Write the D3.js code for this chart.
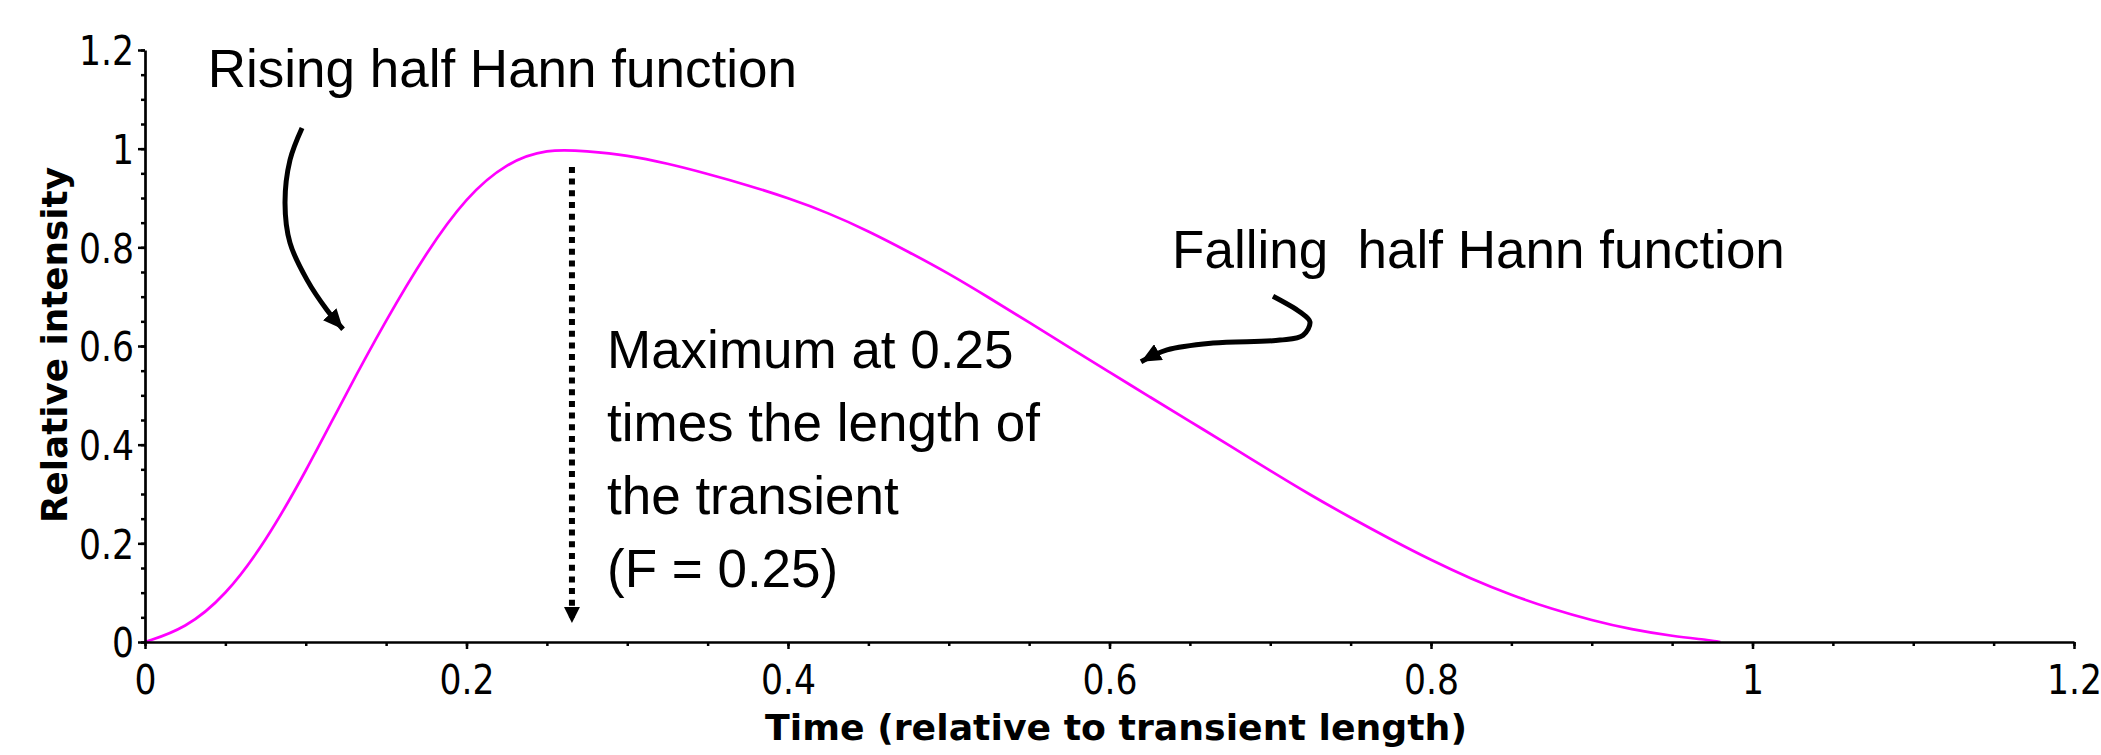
<!DOCTYPE html>
<html>
<head>
<meta charset="utf-8">
<script src="https://cdn.jsdelivr.net/npm/d3@7"></script>
<style>
body { margin: 0; background: #fff; }
svg { display: block; background: #fff; }
.tick text { font-family: "DejaVu Sans Condensed", "DejaVu Sans", sans-serif; font-stretch: condensed; fill: #000; }
.note { font-family: "Liberation Sans", Arial, sans-serif; font-size: 53px; fill: #000; white-space: pre; }
.title { font-family: "DejaVu Sans", Verdana, sans-serif; font-weight: bold; font-size: 36px; fill: #000; }
</style>
</head>
<body>
<svg id="chart" width="2101" height="755"></svg>
<script>
// values (time relative to transient length -> relative intensity)
var time = [0, 0.025, 0.05, 0.075, 0.1, 0.125, 0.15, 0.175, 0.2, 0.225, 0.25,
  0.275, 0.3, 0.325, 0.35, 0.375, 0.4, 0.425, 0.45, 0.475, 0.5,
  0.525, 0.55, 0.575, 0.6, 0.625, 0.65, 0.675, 0.7, 0.725, 0.75,
  0.775, 0.8, 0.825, 0.85, 0.875, 0.9, 0.925, 0.95, 0.975, 0.98]
var intensity = [0, 0.027, 0.093, 0.203, 0.345, 0.503, 0.653, 0.79, 0.903, 0.972, 1.0,
  0.995, 0.987, 0.97, 0.949, 0.926, 0.9, 0.87, 0.833, 0.791, 0.747,
  0.698, 0.648, 0.597, 0.547, 0.497, 0.447, 0.398, 0.347, 0.298, 0.252,
  0.208, 0.166, 0.128, 0.095, 0.067, 0.044, 0.025, 0.012, 0.003, 0]

var xTicks = [0, 0.2, 0.4, 0.6, 0.8, 1, 1.2]
var xTickLabels = ["0", "0.2", "0.4", "0.6", "0.8", "1", "1.2"]
var yTicks = [0, 0.2, 0.4, 0.6, 0.8, 1, 1.2]
var yTickLabels = ["0", "0.2", "0.4", "0.6", "0.8", "1", "1.2"]

var xTitle = "Time (relative to transient length)"
var yTitle = "Relative intensity"
var risingLabel = "Rising half Hann function"
var fallingLabel = "Falling  half Hann function"
var maxLabel = ["Maximum at 0.25", "times the length of", "the transient", "(F = 0.25)"]
var peakMarker = 0.2656

// annotation arrows in data units
var risingArrow = [[0.0977, 1.042], [0.0902, 0.977], [0.0871, 0.89], [0.0902, 0.809], [0.1008, 0.734], [0.1132, 0.673], [0.1232, 0.634]]
var fallingArrow = [[0.7017, 0.701], [0.7185, 0.669], [0.7247, 0.649], [0.7204, 0.622], [0.7061, 0.612], [0.6644, 0.606], [0.6358, 0.592], [0.6196, 0.568]]

var margins = { top: 50, left: 145, right: 27, bottom: 113 }
var width = 2101 - margins.left - margins.right
var height = 755 - margins.top - margins.bottom

var svg = d3.select("#chart")

var defs = svg.append("defs")
defs.append("marker")
  .attr("id", "head")
  .attr("markerUnits", "userSpaceOnUse")
  .attr("viewBox", "0 0 20 18")
  .attr("markerWidth", 20).attr("markerHeight", 18)
  .attr("refX", 20).attr("refY", 9)
  .attr("orient", "auto")
  .append("path").attr("d", "M0,0 L20,9 L0,18 z").attr("fill", "#000")
defs.append("marker")
  .attr("id", "headSmall")
  .attr("markerUnits", "userSpaceOnUse")
  .attr("viewBox", "0 0 16 16")
  .attr("markerWidth", 16).attr("markerHeight", 16)
  .attr("refX", 16).attr("refY", 8)
  .attr("orient", "auto")
  .append("path").attr("d", "M0,0 L16,8 L0,16 z").attr("fill", "#000")

var g = svg.append("g").attr("transform", "translate(" + margins.left + "," + margins.top + ")")

var x = d3.scaleLinear().domain([0, 1.2]).range([0, width])
var y = d3.scaleLinear().domain([0, 1.2]).range([height, 0])

// curve
var points = time.map(function(t, i){ return [t, intensity[i]] })
var line = d3.line()
  .x(function(d){ return x(d[0]) })
  .y(function(d){ return y(d[1]) })
  .curve(d3.curveBasis)

g.append("path")
  .datum(points)
  .attr("d", line)
  .attr("fill", "none")
  .attr("stroke", "#ff00ff")
  .attr("stroke-width", 2.7)

// axes: minor ticks first, then major
var minor = d3.range(0, 1.2001, 0.05)

g.append("g")
  .attr("transform", "translate(0," + height + ")")
  .call(d3.axisBottom(x).tickValues(minor).tickSize(4).tickSizeOuter(0).tickFormat(""))
  .call(function(s){ s.select(".domain").remove() })
  .selectAll("line").attr("stroke-width", 2.5)

var xAxis = g.append("g")
  .attr("transform", "translate(0," + height + ")")
  .call(d3.axisBottom(x).tickValues(xTicks).tickSize(7).tickSizeOuter(0)
    .tickFormat(function(d, i){ return xTickLabels[i] }))
xAxis.select(".domain").attr("stroke-width", 2.7)
xAxis.selectAll("line").attr("stroke-width", 2.5)

g.append("g")
  .call(d3.axisLeft(y).tickValues(minor).tickSize(4).tickSizeOuter(0).tickFormat(""))
  .call(function(s){ s.select(".domain").remove() })
  .selectAll("line").attr("stroke-width", 2.5)

var yAxis = g.append("g")
  .call(d3.axisLeft(y).tickValues(yTicks).tickSize(7).tickSizeOuter(0)
    .tickFormat(function(d, i){ return yTickLabels[i] }))
yAxis.select(".domain").attr("stroke-width", 2.7)
yAxis.selectAll("line").attr("stroke-width", 2.5)

// tick labels: tall narrow digits, "0.x" about 55px wide
var xText = xAxis.selectAll("text").attr("font-size", 41).attr("y", 52).attr("dy", 0)
var yText = yAxis.selectAll("text").attr("font-size", 41).attr("dy", "0.36em")
var sx = 55 / xText.nodes()[1].getComputedTextLength()
xText.attr("transform", "scale(" + sx + ",1)")
yText.attr("x", -11 / sx).attr("transform", "scale(" + sx + ",1)")

// axis titles
svg.append("text")
  .attr("class", "title")
  .attr("x", 1116).attr("y", 740)
  .attr("text-anchor", "middle")
  .attr("textLength", 702)
  .attr("lengthAdjust", "spacingAndGlyphs")
  .text(xTitle)

svg.append("text")
  .attr("class", "title")
  .attr("transform", "translate(67,345) rotate(-90)")
  .attr("text-anchor", "middle")
  .attr("textLength", 356)
  .attr("lengthAdjust", "spacingAndGlyphs")
  .text(yTitle)

// annotations
var arrowLine = d3.line()
  .x(function(d){ return x(d[0]) })
  .y(function(d){ return y(d[1]) })
  .curve(d3.curveCatmullRom)

g.append("path")
  .datum(risingArrow)
  .attr("d", arrowLine)
  .attr("fill", "none").attr("stroke", "#000").attr("stroke-width", 5)
  .attr("marker-end", "url(#head)")

g.append("path")
  .datum(fallingArrow)
  .attr("d", arrowLine)
  .attr("fill", "none").attr("stroke", "#000").attr("stroke-width", 5)
  .attr("marker-end", "url(#head)")

g.append("line")
  .attr("x1", x(peakMarker)).attr("x2", x(peakMarker))
  .attr("y1", y(0.963)).attr("y2", y(0.0385))
  .attr("stroke", "#000").attr("stroke-width", 6)
  .attr("stroke-dasharray", "6,5.7")
  .attr("marker-end", "url(#headSmall)")

g.append("text")
  .attr("class", "note")
  .attr("x", x(0.039)).attr("y", y(1.125))
  .text(risingLabel)

g.append("text")
  .attr("class", "note")
  .attr("x", x(0.6389)).attr("y", y(0.758))
  .text(fallingLabel)

var maxText = g.append("text")
  .attr("class", "note")
  .attr("x", x(0.2874)).attr("y", y(0.5555))
maxText.selectAll("tspan")
  .data(maxLabel)
  .enter()
  .append("tspan")
  .attr("x", x(0.2874))
  .attr("dy", function(d, i){ return i == 0 ? 0 : 73 })
  .text(function(d){ return d })
</script>
</body>
</html>
